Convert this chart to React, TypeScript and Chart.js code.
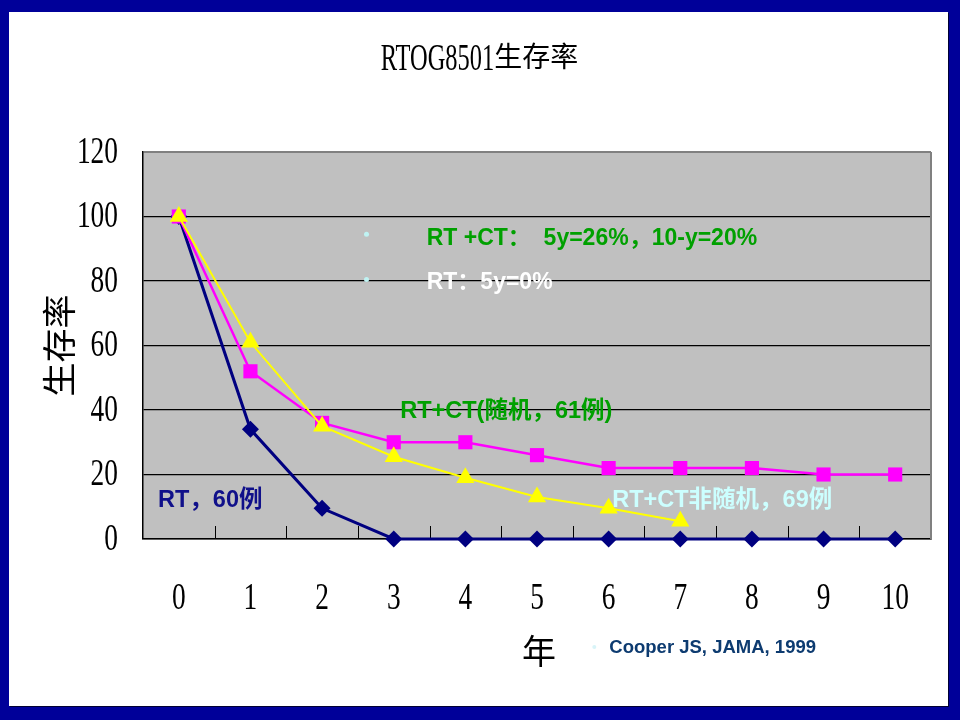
import React, { useEffect, useRef } from "react";
import { Chart, registerables } from "chart.js";

Chart.register(...registerables);

// years after treatment
const years = ["0", "1", "2", "3", "4", "5", "6", "7", "8", "9", "10"];

// survival (%)
const rtOnly = [100, 34, 9.5, 0, 0, 0, 0, 0, 0, 0, 0];
const rtCtRandom = [100, 52, 36, 30, 30, 26, 22, 22, 22, 20, 20];
const rtCtNonRandom = [100, 61, 35, 25.5, 19, 13, 9.5, 5.5, null, null, null];

const yMin = 0;
const yMax = 120;
const yStep = 20;

const chartTitle = "RTOG8501生存率";
const yTitle = "生存率";
const xTitle = "年";

const SERIF = "'Liberation Serif', 'Noto Sans CJK SC', serif";
const SANS = "'Liberation Sans', Arial, 'Noto Sans CJK SC', sans-serif";

// draw text with ascii runs squeezed horizontally (the original uses a narrow serif)
function drawSqueezed(
  ctx: CanvasRenderingContext2D,
  text: string,
  x: number,
  y: number,
  latinFont: string,
  cjkFont: string,
  sx: number,
  align: "left" | "center" | "right"
) {
  const runs: { t: string; latin: boolean }[] = [];
  for (const ch of text) {
    const latin = ch.charCodeAt(0) < 128;
    const last = runs[runs.length - 1];
    if (last && last.latin === latin) last.t += ch;
    else runs.push({ t: ch, latin });
  }
  const widths = runs.map((r) => {
    ctx.font = r.latin ? latinFont : cjkFont;
    return ctx.measureText(r.t).width * (r.latin ? sx : 1);
  });
  const total = widths.reduce((a, b) => a + b, 0);
  let cx = align === "left" ? x : align === "center" ? x - total / 2 : x - total;
  ctx.textBaseline = "middle";
  ctx.textAlign = "left";
  runs.forEach((r, i) => {
    ctx.save();
    ctx.font = r.latin ? latinFont : cjkFont;
    ctx.translate(cx, y);
    if (r.latin) ctx.scale(sx, 1);
    ctx.fillText(r.t, 0, 0);
    ctx.restore();
    cx += widths[i];
  });
}

const framePlugin = {
  id: "frame",
  beforeDraw(chart: any) {
    const { ctx, chartArea: a } = chart;
    ctx.save();
    ctx.fillStyle = "#c0c0c0";
    ctx.fillRect(a.left, a.top, a.right - a.left, a.bottom - a.top);
    ctx.restore();
  },
  beforeDatasetsDraw(chart: any) {
    const { ctx, chartArea: a, scales } = chart;
    const x = scales.x;
    ctx.save();
    // right edge
    ctx.strokeStyle = "#808080";
    ctx.lineWidth = 2;
    ctx.beginPath();
    ctx.moveTo(a.right, a.top);
    ctx.lineTo(a.right, a.bottom);
    ctx.stroke();
    // inside tick marks between categories
    ctx.strokeStyle = "#000";
    ctx.lineWidth = 1;
    for (let i = 1; i < years.length; i++) {
      const px = Math.round(x.getPixelForValue(i - 0.5)) + 0.5;
      ctx.beginPath();
      ctx.moveTo(px, a.bottom);
      ctx.lineTo(px, a.bottom - 13);
      ctx.stroke();
    }
    ctx.restore();
  },
  afterDraw(chart: any) {
    const { ctx, chartArea: a, scales, width } = chart;
    const x = scales.x;
    const y = scales.y;
    ctx.save();
    ctx.fillStyle = "#000";
    // title
    drawSqueezed(ctx, chartTitle, width / 2 + 1, 48, `37px ${SERIF}`, `28px ${SERIF}`, 0.66, "center");
    // y ticks
    y.ticks.forEach((t: any) => {
      drawSqueezed(ctx, String(t.value), a.left - 25, y.getPixelForValue(t.value) + 1, `37px ${SERIF}`, `37px ${SERIF}`, 0.74, "right");
    });
    // x ticks
    years.forEach((lab, i) => {
      drawSqueezed(ctx, lab, x.getPixelForValue(i), a.bottom + 60, `37px ${SERIF}`, `37px ${SERIF}`, 0.74, "center");
    });
    // axis titles
    ctx.save();
    ctx.translate(54, (a.top + a.bottom) / 2);
    ctx.rotate(-Math.PI / 2);
    ctx.font = `34px ${SERIF}`;
    ctx.textAlign = "center";
    ctx.textBaseline = "middle";
    ctx.fillText(yTitle, 0, 0);
    ctx.restore();
    ctx.font = `34px ${SERIF}`;
    ctx.textAlign = "center";
    ctx.textBaseline = "middle";
    ctx.fillText(xTitle, (a.left + a.right) / 2 + 2, a.bottom + 116);

    // notes inside the plot, placed in data units
    const note = (text: string, xv: number, yv: number, color: string, size = 23.5) => {
      ctx.font = `bold ${size}px ${SANS}`;
      ctx.fillStyle = color;
      ctx.textAlign = "left";
      ctx.textBaseline = "middle";
      ctx.fillText(text, x.getPixelForValue(xv), y.getPixelForValue(yv));
    };
    const bullet = (xv: number, yv: number, color: string) => {
      ctx.fillStyle = color;
      ctx.beginPath();
      ctx.arc(x.getPixelForValue(xv), y.getPixelForValue(yv), 2.5, 0, Math.PI * 2);
      ctx.fill();
    };
    bullet(2.62, 94.5, "#bff3f3");
    note("RT +CT：  5y=26%，10-y=20%", 3.46, 93, "#00a000", 23);
    bullet(2.62, 80.5, "#bff3f3");
    note("RT：5y=0%", 3.46, 79.5, "#ffffff", 23);
    note("RT+CT(随机，61例)", 3.09, 39.5, "#00a000");
    note("RT，60例", -0.29, 12, "#10108a");
    note("RT+CT非随机，69例", 6.05, 12, "#ccffff");

    // citation below the plot
    ctx.fillStyle = "#d8f4f8";
    ctx.beginPath();
    ctx.arc(x.getPixelForValue(5.8), a.bottom + 108, 2, 0, Math.PI * 2);
    ctx.fill();
    ctx.font = `bold 18.5px ${SANS}`;
    ctx.fillStyle = "#0d3b70";
    ctx.textAlign = "left";
    ctx.textBaseline = "middle";
    ctx.fillText("Cooper JS, JAMA, 1999", x.getPixelForValue(6.01), a.bottom + 109);
    ctx.restore();
  },
};

export default function App() {
  const canvasRef = useRef<HTMLCanvasElement>(null);
  const chartRef = useRef<Chart | null>(null);

  useEffect(() => {
    if (!canvasRef.current) return;
    if (chartRef.current) chartRef.current.destroy();

    chartRef.current = new Chart(canvasRef.current, {
      type: "line",
      data: {
        labels: years,
        datasets: [
          {
            label: "RT+CT非随机",
            data: rtCtNonRandom,
            borderColor: "#ffff00",
            backgroundColor: "#ffff00",
            borderWidth: 2,
            pointStyle: "triangle",
            pointRadius: 10.5,
            pointBorderWidth: 0,
            clip: false,
          },
          {
            label: "RT+CT随机",
            data: rtCtRandom,
            borderColor: "#ff00ff",
            backgroundColor: "#ff00ff",
            borderWidth: 2.5,
            pointStyle: "rect",
            pointRadius: 10,
            pointBorderWidth: 0,
            clip: false,
          },
          {
            label: "RT",
            data: rtOnly,
            borderColor: "#000080",
            backgroundColor: "#000080",
            borderWidth: 3,
            pointStyle: "rectRot",
            pointRadius: 8.5,
            pointBorderWidth: 0,
            clip: false,
          },
        ],
      },
      options: {
        animation: false,
        responsive: true,
        maintainAspectRatio: false,
        layout: { padding: { top: 140, right: 17, left: 0, bottom: 0 } },
        plugins: {
          legend: { display: false },
          title: { display: false },
          tooltip: { enabled: false },
        },
        elements: { line: { tension: 0 } },
        scales: {
          x: {
            type: "category",
            offset: true,
            grid: { display: false },
            border: { display: true, color: "#000", width: 1.5 },
            ticks: { display: false },
            afterFit: (s: any) => {
              s.height = 167;
            },
          },
          y: {
            min: yMin,
            max: yMax,
            ticks: { display: false, stepSize: yStep },
            grid: {
              drawTicks: false,
              color: (c: any) => (c.tick && c.tick.value === yMax ? "#808080" : "#000"),
              lineWidth: (c: any) => (c.tick && c.tick.value === yMax ? 2 : 1.2),
            },
            border: { display: true, color: "#000", width: 1.5 },
            afterFit: (s: any) => {
              s.width = 134;
            },
          },
        },
      },
      plugins: [framePlugin],
    });

    return () => {
      if (chartRef.current) {
        chartRef.current.destroy();
        chartRef.current = null;
      }
    };
  }, []);

  return (
    <div
      style={{
        position: "absolute",
        left: 0,
        top: 0,
        width: 960,
        height: 720,
        background: "#000099",
        padding: "12px 12px 14px 9px",
        boxSizing: "border-box",
      }}
    >
      <div
        style={{
          width: "100%",
          height: "100%",
          background: "#fff",
          position: "relative",
          boxShadow: "1px 1px 0 #000033",
        }}
      >
        <canvas ref={canvasRef} />
      </div>
    </div>
  );
}
